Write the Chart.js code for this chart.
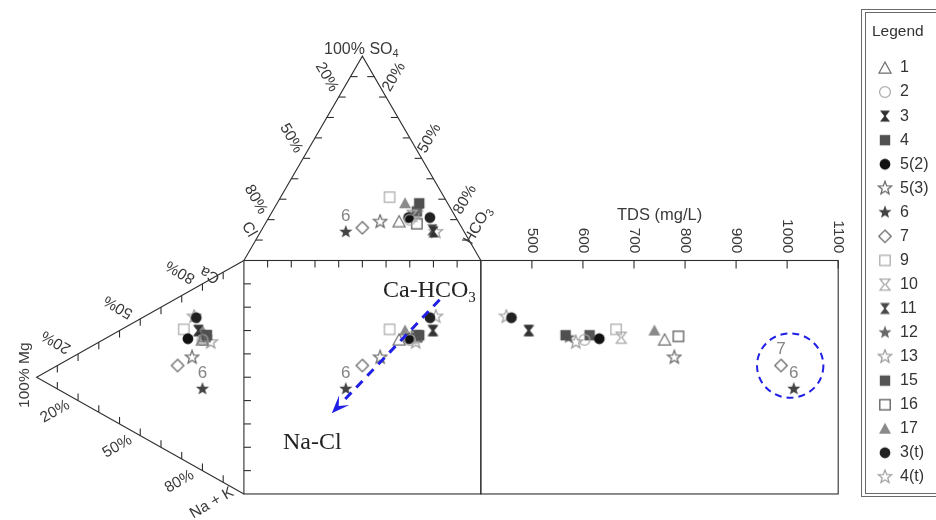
<!DOCTYPE html>
<html>
<head>
<meta charset="utf-8">
<title>Durov diagram</title>
<script src="https://cdn.jsdelivr.net/npm/chart.js@4.4.1/dist/chart.umd.min.js"></script>
<style>
  html, body { margin: 0; padding: 0; background: #fff; }
  canvas { display: block; }
</style>
</head>
<body>
<canvas id="durov" width="936" height="520"></canvas>
<script>
// samples: cations / anions in meq %, TDS in mg/L
const samples = ['1', '2', '3', '4', '5(2)', '5(3)', '6', '7', '9', '10', '11', '12', '13', '15', '16', '17', '3(t)', '4(t)'];
const caPct   = [56, 56, 59, 59, 53, 46, 35, 39, 56, 57, 59, 58, 57, 59, 58, 60, 64, 64];
const mgPct   = [20, 20, 22, 18, 27, 25, 20, 32, 29, 20, 22, 18, 16, 18, 19, 20, 23, 24];
const naPct   = [24, 24, 19, 23, 20, 29, 45, 29, 15, 23, 19, 24, 27, 23, 23, 20, 13, 12];
const hco3Pct = [56, 60, 73, 60, 59, 48, 36, 42, 46, 60, 72, 61, 61, 61, 64, 54, 68, 74];
const so4Pct  = [19, 20, 14, 28, 21, 19, 14, 16, 31, 22, 15, 25, 23, 24, 18, 28, 21, 14];
const clPct   = [25, 20, 13, 12, 20, 33, 50, 42, 23, 18, 13, 14, 16, 15, 18, 18, 11, 12];
const tdsMgL  = [760, 603, 493, 566, 632, 779, 1013, 988, 665, 675, 495, 572, 586, 613, 787, 740, 460, 450];
const tdsTicks = [500, 600, 700, 800, 900, 1000, 1100];
const edgePct = [20, 50, 80];

// marker look per sample
const markerStyles = {
  '1':    ['triangle', false, '#6e6e6e'],
  '2':    ['circle', false, '#a8a8a8'],
  '3':    ['hourglass', true, '#333333'],
  '4':    ['square', true, '#505050'],
  '5(2)': ['circle', true, '#111111'],
  '5(3)': ['star', false, '#666666'],
  '6':    ['star', true, '#444444'],
  '7':    ['diamond', false, '#666666'],
  '9':    ['square', false, '#aaaaaa'],
  '10':   ['hourglass', false, '#a8a8a8'],
  '11':   ['hourglass', true, '#4a4a4a'],
  '12':   ['star', true, '#686868'],
  '13':   ['star', false, '#9a9a9a'],
  '15':   ['square', true, '#555555'],
  '16':   ['square', false, '#555555'],
  '17':   ['triangle', true, '#8a8a8a'],
  '3(t)': ['circle', true, '#222222'],
  '4(t)': ['star', false, '#a0a0a0']
};

// layout: the square runs 0..100 both ways, triangles stick out TRI_H
const TRI_H = 87.5;
const SQ_LEFT = 241, SQ_BOTTOM = 499.5, PX_X = 2.4, PX_Y = 2.39;
const TDS_LEFT = 481, TDS_RIGHT = 843, TDS_MIN = 400, TDS_MAX = 1100;
const W = 936, H = 520;
const FONT = '"Liberation Sans", Arial, sans-serif';
const SERIF = '"Liberation Serif", "Times New Roman", serif';

const V = {
  so4: [50, 100 + TRI_H], cl: [0, 100], hco3: [100, 100],
  mg: [-TRI_H, 50], ca: [0, 100], na: [0, 0]
};

const anionX = i => hco3Pct[i] + so4Pct[i] / 2;
const anionY = i => 100 + TRI_H * so4Pct[i] / 100;
const cationX = i => -TRI_H * mgPct[i] / 100;
const cationY = i => caPct[i] + mgPct[i] / 2;

// annotations
const trendArrow = { from: [82.6, 83.2], to: [37.1, 34.6] };
const tdsRing = { tds: 1006, y: 55, rTds: 65, rY: 13.8 };
const pointNotes = [
  { sample: '6', where: ['anion', 'cation', 'square', 'tds'] },
  { sample: '7', where: ['tds'] }
];

function makeMarker(shape, filled, color) {
  const s = 16, c = document.createElement('canvas');
  c.width = s; c.height = s;
  const g = c.getContext('2d');
  g.translate(s / 2, s / 2);
  g.lineWidth = 1.25;
  g.strokeStyle = color;
  g.fillStyle = color;
  g.beginPath();
  if (shape === 'triangle') {
    g.moveTo(0, -6); g.lineTo(6, 5); g.lineTo(-6, 5); g.closePath();
  } else if (shape === 'circle') {
    g.arc(0, 0, 5.4, 0, Math.PI * 2);
  } else if (shape === 'square') {
    g.rect(-5.2, -5.2, 10.4, 10.4);
  } else if (shape === 'diamond') {
    g.moveTo(0, -6.2); g.lineTo(6.2, 0); g.lineTo(0, 6.2); g.lineTo(-6.2, 0); g.closePath();
  } else if (shape === 'hourglass') {
    g.moveTo(-5, -5.5); g.lineTo(5, -5.5); g.lineTo(0.7, 0);
    g.lineTo(5, 5.5); g.lineTo(-5, 5.5); g.lineTo(-0.7, 0); g.closePath();
  } else if (shape === 'star') {
    for (let k = 0; k < 10; k++) {
      const r = k % 2 ? 2.9 : 6.9, a = -Math.PI / 2 + k * Math.PI / 5;
      if (k) g.lineTo(r * Math.cos(a), r * Math.sin(a)); else g.moveTo(r * Math.cos(a), r * Math.sin(a));
    }
    g.closePath();
  }
  if (filled) g.fill(); else g.stroke();
  return c;
}

const markers = samples.map(s => makeMarker(...markerStyles[s]));

const datasets = [];
samples.forEach((s, i) => {
  datasets.push({
    label: s,
    data: [
      { x: anionX(i), y: anionY(i) },
      { x: cationX(i), y: cationY(i) },
      { x: anionX(i), y: cationY(i) }
    ],
    xAxisID: 'x', yAxisID: 'y',
    pointStyle: markers[i], pointRadius: 5
  });
  datasets.push({
    label: s + ' TDS',
    data: [{ x: tdsMgL[i], y: cationY(i) }],
    xAxisID: 'xt', yAxisID: 'y',
    pointStyle: markers[i], pointRadius: 5
  });
});

function drawLabel(ctx, parts, x, y, rot, size, align) {
  ctx.save();
  ctx.translate(x, y);
  ctx.rotate(rot * Math.PI / 180);
  ctx.textBaseline = 'middle';
  ctx.textAlign = 'left';
  const widths = parts.map(([t, sub]) => {
    ctx.font = (sub ? Math.round(size * 0.7) : size) + 'px ' + FONT;
    return ctx.measureText(t).width;
  });
  const total = widths.reduce((a, b) => a + b, 0);
  let cx = align === 'right' ? -total : -total / 2;
  parts.forEach(([t, sub], k) => {
    ctx.font = (sub ? Math.round(size * 0.7) : size) + 'px ' + FONT;
    ctx.fillText(t, cx, sub ? size * 0.3 : 0);
    cx += widths[k];
  });
  ctx.restore();
}

const durovFrame = {
  id: 'durovFrame',
  beforeDatasetsDraw(chart) {
    const ctx = chart.ctx;
    const sx = chart.scales.x, sy = chart.scales.y, st = chart.scales.xt;
    const P = u => [sx.getPixelForValue(u[0]), sy.getPixelForValue(u[1])];
    const lerp = (a, b, f) => [a[0] + (b[0] - a[0]) * f, a[1] + (b[1] - a[1]) * f];
    const line = (a, b) => { ctx.beginPath(); ctx.moveTo(a[0], a[1]); ctx.lineTo(b[0], b[1]); ctx.stroke(); };

    ctx.save();
    ctx.strokeStyle = '#2e2e2e';
    ctx.lineWidth = 1.1;
    // triangles
    [[V.cl, V.so4, V.hco3], [V.ca, V.mg, V.na]].forEach(tri => {
      ctx.beginPath();
      tri.map(P).forEach((p, k) => k ? ctx.lineTo(p[0], p[1]) : ctx.moveTo(p[0], p[1]));
      ctx.stroke();
    });
    // square and TDS panel
    const tl = P([0, 100]), br = P([100, 0]);
    ctx.strokeRect(tl[0], tl[1], br[0] - tl[0], br[1] - tl[1]);
    const t0 = st.getPixelForValue(TDS_MIN), t1 = st.getPixelForValue(TDS_MAX);
    ctx.strokeRect(t0, tl[1], t1 - t0, br[1] - tl[1]);

    // ticks every 10 %
    const TK = 7;
    for (let k = 1; k < 10; k++) {
      const f = k / 10;
      let p = P(lerp(V.so4, V.cl, f)); line(p, [p[0] + TK, p[1]]);
      p = P(lerp(V.so4, V.hco3, f)); line(p, [p[0] - TK, p[1]]);
      p = P(lerp(V.mg, V.ca, f)); line(p, [p[0], p[1] + TK]);
      p = P(lerp(V.mg, V.na, f)); line(p, [p[0], p[1] - TK]);
      p = P([k * 10, 100]); line(p, [p[0], p[1] + TK]);
      p = P([0, k * 10]); line(p, [p[0] + TK, p[1]]);
    }
    tdsTicks.forEach(t => {
      const x = st.getPixelForValue(t);
      line([x, tl[1]], [x, tl[1] + 8]);
    });

    // percent labels along triangle edges
    ctx.fillStyle = '#3a3a3a';
    const edges = [
      { from: V.so4, to: V.cl, dx: -12, dy: -20, rot: 60 },
      { from: V.so4, to: V.hco3, dx: 8, dy: -20, rot: -60 },
      { from: V.mg, to: V.ca, dx: -22, dy: -12, rot: -150 },
      { from: V.mg, to: V.na, dx: -23, dy: 11, rot: -30 }
    ];
    edges.forEach(e => edgePct.forEach(v => {
      const p = P(lerp(e.from, e.to, v / 100));
      drawLabel(ctx, [[v + '%']], p[0] + e.dx, p[1] + e.dy, e.rot, 15.5);
    }));
    const corner = (v, parts, dx, dy, rot, size) => {
      const p = P(v);
      drawLabel(ctx, parts, p[0] + dx, p[1] + dy, rot, size || 15.5);
    };
    corner(V.so4, [['100% SO'], ['4', true]], -1, -7, 0, 16);
    corner(V.cl, [['Cl']], 5, -31, 60);
    corner(V.hco3, [['HCO'], ['3', true]], -3, -35, -60);
    corner(V.ca, [['Ca']], -34, 14, -150);
    corner(V.na, [['Na + K']], -32, 9, -30);
    corner(V.mg, [['100% Mg']], -12, -2, -90);

    // TDS axis
    tdsTicks.forEach(t => {
      drawLabel(ctx, [[String(t)]], st.getPixelForValue(t), tl[1] - 7, 90, 15.5, 'right');
    });
    drawLabel(ctx, [['TDS (mg/L)']], (t0 + t1) / 2, tl[1] - 45, 0, 16.5);
    ctx.restore();
  },
  afterDatasetsDraw(chart) {
    const ctx = chart.ctx;
    const sx = chart.scales.x, sy = chart.scales.y, st = chart.scales.xt;
    const P = u => [sx.getPixelForValue(u[0]), sy.getPixelForValue(u[1])];
    ctx.save();

    // sample notes
    ctx.fillStyle = '#858585';
    ctx.font = '17px ' + FONT;
    ctx.textAlign = 'center';
    ctx.textBaseline = 'middle';
    pointNotes.forEach(n => {
      const i = samples.indexOf(n.sample);
      const spots = {
        anion: P([anionX(i), anionY(i)]),
        cation: P([cationX(i), cationY(i)]),
        square: P([anionX(i), cationY(i)]),
        tds: [st.getPixelForValue(tdsMgL[i]), sy.getPixelForValue(cationY(i))]
      };
      n.where.forEach(w => ctx.fillText(n.sample, spots[w][0], spots[w][1] - 16));
    });

    // trend arrow Ca-HCO3 -> Na-Cl
    const a = P(trendArrow.from), b = P(trendArrow.to);
    const ang = Math.atan2(b[1] - a[1], b[0] - a[0]);
    const head = 15;
    const base = [b[0] - head * Math.cos(ang), b[1] - head * Math.sin(ang)];
    ctx.strokeStyle = '#1f1fe6';
    ctx.fillStyle = '#1f1fe6';
    ctx.lineWidth = 3;
    ctx.setLineDash([9, 7]);
    ctx.beginPath(); ctx.moveTo(a[0], a[1]); ctx.lineTo(base[0], base[1]); ctx.stroke();
    ctx.setLineDash([]);
    const nx = -Math.sin(ang), ny = Math.cos(ang);
    const back = [b[0] - (head + 3) * Math.cos(ang), b[1] - (head + 3) * Math.sin(ang)];
    const notch = [b[0] - (head - 5) * Math.cos(ang), b[1] - (head - 5) * Math.sin(ang)];
    ctx.beginPath();
    ctx.moveTo(b[0], b[1]);
    ctx.lineTo(back[0] + nx * 7, back[1] + ny * 7);
    ctx.lineTo(notch[0], notch[1]);
    ctx.lineTo(back[0] - nx * 7, back[1] - ny * 7);
    ctx.closePath();
    ctx.fill();

    // ring round the two high-TDS samples
    const cx = st.getPixelForValue(tdsRing.tds), cy = sy.getPixelForValue(tdsRing.y);
    const rx = st.getPixelForValue(tdsRing.tds + tdsRing.rTds) - cx;
    const ry = cy - sy.getPixelForValue(tdsRing.y + tdsRing.rY);
    ctx.lineWidth = 2;
    ctx.setLineDash([7, 5]);
    ctx.beginPath(); ctx.ellipse(cx, cy, rx, ry, 0, 0, Math.PI * 2); ctx.stroke();
    ctx.setLineDash([]);

    // water type captions
    ctx.fillStyle = '#222';
    ctx.textAlign = 'left';
    ctx.textBaseline = 'alphabetic';
    ctx.font = '24px ' + SERIF;
    ctx.fillText('Ca-HCO', 383, 297);
    const w = ctx.measureText('Ca-HCO').width;
    ctx.font = '15px ' + SERIF;
    ctx.fillText('3', 383 + w, 302);
    ctx.font = '24px ' + SERIF;
    ctx.fillText('Na-Cl', 283, 449);
    ctx.restore();
  },
  afterDraw(chart) {
    const ctx = chart.ctx;
    ctx.save();
    ctx.strokeStyle = '#6a6a6a';
    ctx.lineWidth = 1;
    ctx.strokeRect(861.5, 9.5, 90, 487);
    ctx.strokeRect(865.5, 12.5, 90, 481);
    ctx.fillStyle = '#333';
    ctx.font = '15.5px ' + FONT;
    ctx.textBaseline = 'middle';
    ctx.textAlign = 'left';
    ctx.fillText('Legend', 872, 32);
    ctx.font = '16px ' + FONT;
    samples.forEach((s, i) => {
      const y = 68 + i * 24.05;
      const m = markers[i];
      ctx.drawImage(m, 885 - m.width / 2, y - m.height / 2);
      ctx.fillText(s, 900, y);
    });
    ctx.restore();
  }
};

new Chart(document.getElementById('durov'), {
  type: 'scatter',
  data: { datasets },
  options: {
    responsive: false,
    animation: false,
    layout: { padding: 0 },
    plugins: { legend: { display: false }, tooltip: { enabled: false } },
    scales: {
      x: { type: 'linear', display: false, min: -SQ_LEFT / PX_X, max: (W - SQ_LEFT) / PX_X },
      xt: {
        type: 'linear', axis: 'x', display: false,
        min: TDS_MIN - TDS_LEFT * (TDS_MAX - TDS_MIN) / (TDS_RIGHT - TDS_LEFT),
        max: TDS_MIN + (W - TDS_LEFT) * (TDS_MAX - TDS_MIN) / (TDS_RIGHT - TDS_LEFT)
      },
      y: { type: 'linear', display: false, min: (SQ_BOTTOM - H) / PX_Y, max: SQ_BOTTOM / PX_Y }
    }
  },
  plugins: [durovFrame]
});
</script>
</body>
</html>
